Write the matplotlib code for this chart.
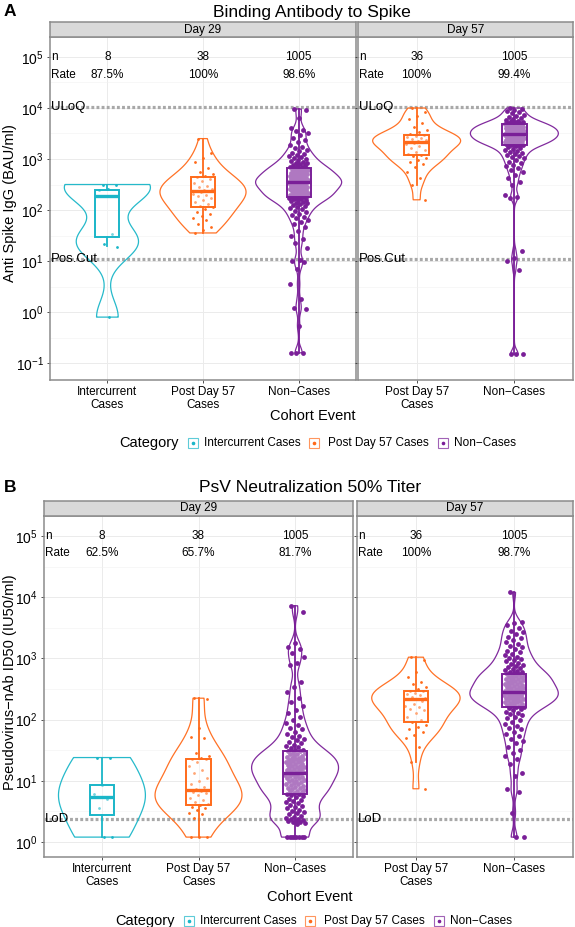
import numpy as np
import matplotlib
matplotlib.use("Agg")
import matplotlib.pyplot as plt
from matplotlib.colors import to_rgba
from matplotlib.patches import Rectangle
from matplotlib.lines import Line2D

plt.rcParams['font.family'] = ['Liberation Sans', 'DejaVu Sans']
plt.rcParams['mathtext.fontset'] = 'custom'
plt.rcParams['mathtext.rm'] = 'Liberation Sans'

# ── data (log10 scale) ───────────────────────────────────────────────────────
categories   = ["Intercurrent Cases", "Post Day 57 Cases", "Non\u2212Cases"]
tick_labels  = ["Intercurrent\nCases", "Post Day 57\nCases", "Non\u2212Cases"]
colors       = ["#1AB6C8", "#FF6A1A", "#7A1F98"]

# A: Binding Antibody to Spike
a_title  = "Binding Antibody to Spike"
a_ylabel = "Anti Spike IgG (BAU/ml)"
a_n_d29, a_rate_d29 = ["8", "38", "1005"], ["87.5%", "100%", "98.6%"]
a_n_d57, a_rate_d57 = ["36", "1005"], ["100%", "99.4%"]
a_ref_names = ["ULoQ", "Pos.Cut"]
a_ref_vals  = [4.01, 1.03]

a29_ic = [2.50, 2.49, 2.41, 2.39, 1.52, 1.33, 1.28, -0.10]
a29_pd = [3.40, 3.12, 3.02, 2.95, 2.82, 2.75, 2.70, 2.66, 2.64, 2.60, 2.57, 2.52, 2.48,
          2.45, 2.42, 2.40, 2.38, 2.37, 2.35, 2.32, 2.30, 2.27, 2.24, 2.20, 2.16, 2.12,
          2.08, 2.05, 2.02, 1.97, 1.92, 1.88, 1.85, 1.80, 1.72, 1.66, 1.60, 1.55]
a29_nc = [3.98, 3.97, 3.80, 3.61, 3.57, 3.55, 3.51, 3.47,
          3.42, 3.37, 3.33, 3.28, 3.24, 3.21, 3.18, 3.15, 3.12, 3.10, 3.08, 3.06, 3.04,
          3.02, 3.00, 2.98, 2.97, 2.95, 2.93, 2.92, 2.90, 2.89, 2.88, 2.86, 2.85, 2.84,
          2.83, 2.82, 2.81, 2.80, 2.79, 2.78, 2.78, 2.77, 2.76, 2.75, 2.74, 2.73, 2.72,
          2.71, 2.70, 2.70, 2.69, 2.68, 2.67, 2.66, 2.65, 2.64, 2.63, 2.63, 2.62, 2.61,
          2.60, 2.59, 2.59, 2.58, 2.57, 2.57, 2.56, 2.56, 2.55, 2.55,
          2.54, 2.54, 2.53, 2.52, 2.52, 2.51, 2.50, 2.50, 2.49, 2.48, 2.47, 2.47, 2.46,
          2.45, 2.44, 2.43, 2.42, 2.41, 2.40, 2.40, 2.39, 2.38, 2.37, 2.36, 2.35, 2.34,
          2.33, 2.32, 2.31, 2.30, 2.30, 2.29, 2.28, 2.27, 2.27, 2.26,
          2.25, 2.24, 2.23, 2.22, 2.21, 2.20, 2.19, 2.17, 2.16, 2.14, 2.13, 2.11, 2.09,
          2.07, 2.05, 2.03, 2.01, 1.98, 1.96, 1.93, 1.90, 1.87, 1.84, 1.80, 1.76, 1.72,
          1.66, 1.58, 1.50, 1.43, 1.35, 1.25, 1.02, 1.00, 0.98, 0.85, 0.55, 0.26, 0.07,
          0.06, -0.27, -0.80, -0.80, -0.80]
a57_pd = [4.00, 3.92, 3.85, 3.78, 3.70, 3.62, 3.57, 3.52, 3.49, 3.47, 3.45, 3.43, 3.41,
          3.39, 3.37, 3.35, 3.34, 3.33, 3.31, 3.29, 3.26, 3.22, 3.18, 3.14, 3.10, 3.08,
          3.05, 3.02, 2.98, 2.95, 2.90, 2.84, 2.75, 2.62, 2.49, 2.20]
a57_nc = [4.00, 3.99, 3.97, 3.95, 3.92, 3.90, 3.87, 3.85, 3.82, 3.80, 3.78, 3.76,
          3.75, 3.74, 3.73, 3.72, 3.71, 3.70, 3.69,
          3.68, 3.68, 3.67, 3.66, 3.66, 3.65, 3.64, 3.64, 3.63, 3.62, 3.62, 3.61, 3.60,
          3.60, 3.59, 3.58, 3.58, 3.57, 3.56, 3.56, 3.55, 3.55, 3.54, 3.53, 3.53, 3.52,
          3.51, 3.51, 3.50, 3.49, 3.49, 3.49,
          3.48, 3.47, 3.47, 3.46, 3.45, 3.45, 3.44, 3.44, 3.43, 3.42, 3.42, 3.41, 3.40,
          3.40, 3.39, 3.38, 3.38, 3.37, 3.36, 3.35, 3.35, 3.34, 3.33, 3.33, 3.32, 3.31,
          3.30, 3.29, 3.29, 3.28, 3.27, 3.27,
          3.25, 3.24, 3.22, 3.20, 3.18, 3.16, 3.14, 3.12, 3.10, 3.08, 3.06, 3.03, 3.01,
          2.98, 2.95, 2.92, 2.89, 2.86, 2.82, 2.78,
          2.74, 2.69, 2.62, 2.55, 2.49, 2.30, 2.25, 2.24, 1.20, 1.05, 1.00, 0.83,
          -0.83, -0.83, -0.83]
# box: whisker low, Q1, median, Q3, whisker high
a29_box = [[1.30, 1.47, 2.28, 2.40, 2.50], [1.55, 2.05, 2.38, 2.65, 3.40],
           [-0.80, 2.26, 2.55, 2.83, 3.98]]
a57_box = [[2.49, 3.08, 3.33, 3.47, 4.00], [-0.83, 3.27, 3.49, 3.68, 4.00]]

# B: PsV Neutralization 50% Titer
b_title  = "PsV Neutralization 50% Titer"
b_ylabel = "Pseudovirus\u2212nAb ID50 (IU50/ml)"
b_n_d29, b_rate_d29 = ["8", "38", "1005"], ["62.5%", "65.7%", "81.7%"]
b_n_d57, b_rate_d57 = ["36", "1005"], ["100%", "98.7%"]
b_ref_names = ["LoD"]
b_ref_vals  = [0.384]

b29_ic = [1.38, 1.38, 0.93, 0.79, 0.70, 0.56, 0.08, 0.08]
b29_pd = [2.35, 2.34, 1.86, 1.72, 1.70, 1.45, 1.40, 1.38, 1.36, 1.35, 1.30, 1.25, 1.18,
          1.12, 1.05, 1.00, 0.95, 0.90, 0.87, 0.85, 0.84, 0.82, 0.80, 0.76, 0.72, 0.68,
          0.65, 0.62, 0.60, 0.58, 0.55, 0.52, 0.48, 0.45, 0.40, 0.08, 0.08, 0.08]
b29_nc = [3.86, 3.76, 3.25, 3.19, 3.15, 3.09, 3.02, 2.92, 2.89, 2.62, 2.53, 2.45, 2.35,
          2.28, 2.22,
          2.16, 2.10, 2.04, 1.99, 1.95, 1.91, 1.87, 1.84, 1.80, 1.77, 1.74, 1.71, 1.68,
          1.66, 1.63, 1.61, 1.59, 1.57, 1.55, 1.53, 1.51, 1.50,
          1.49, 1.48, 1.46, 1.45, 1.44, 1.43, 1.41, 1.40, 1.39, 1.38, 1.37, 1.36, 1.35,
          1.34, 1.33, 1.32, 1.31, 1.30, 1.29, 1.28, 1.27, 1.26, 1.25, 1.24, 1.23, 1.22,
          1.21, 1.20, 1.19, 1.18, 1.17, 1.16, 1.15, 1.14, 1.13,
          1.12, 1.11, 1.10, 1.09, 1.08, 1.07, 1.06, 1.05, 1.04, 1.02, 1.01, 1.00, 0.99,
          0.98, 0.96, 0.95, 0.94, 0.93, 0.91, 0.90, 0.89, 0.88, 0.86, 0.85, 0.84, 0.83,
          0.81, 0.80, 0.79, 0.78,
          0.77, 0.75, 0.73, 0.71, 0.69, 0.67, 0.65, 0.63, 0.61, 0.59, 0.57, 0.55, 0.53,
          0.51, 0.49, 0.47, 0.45, 0.43, 0.41, 0.39, 0.38, 0.37, 0.36, 0.35, 0.34, 0.33,
          0.32, 0.31, 0.30, 0.08, 0.08, 0.08, 0.08, 0.08, 0.08, 0.08, 0.08]
b57_pd = [3.02, 2.97, 2.78, 2.69, 2.62, 2.58, 2.54, 2.50, 2.47, 2.46, 2.44, 2.42, 2.40,
          2.37, 2.35, 2.34, 2.33, 2.30, 2.26, 2.22, 2.20, 2.18, 2.15, 2.10, 2.05, 1.99,
          1.96, 1.92, 1.88, 1.85, 1.80, 1.75, 1.70, 1.56, 1.31, 0.87]
b57_nc = [4.08, 3.59, 3.58, 3.55, 3.50, 3.44, 3.43, 3.40, 3.35, 3.34, 3.30,
          3.27, 3.24, 3.21, 3.18, 3.15, 3.12, 3.10, 3.07, 3.05, 3.03, 3.01, 2.99, 2.97,
          2.95, 2.93, 2.91, 2.89, 2.87, 2.86, 2.84, 2.83, 2.81, 2.80, 2.78, 2.77, 2.76,
          2.75, 2.74,
          2.73, 2.72, 2.71, 2.70, 2.69, 2.68, 2.67, 2.66, 2.65, 2.64, 2.63, 2.62, 2.61,
          2.60, 2.59, 2.58, 2.57, 2.56, 2.55, 2.54, 2.53, 2.52, 2.51, 2.50, 2.49, 2.48,
          2.47, 2.46, 2.45, 2.45,
          2.44, 2.44, 2.43, 2.42, 2.41, 2.40, 2.40, 2.39, 2.38, 2.37, 2.36, 2.35, 2.35,
          2.34, 2.33, 2.32, 2.31, 2.30, 2.29, 2.28, 2.27, 2.26, 2.25, 2.24, 2.23, 2.22,
          2.21, 2.20,
          2.19, 2.17, 2.15, 2.13, 2.11, 2.09, 2.07, 2.04, 2.02, 1.99, 1.96, 1.93, 1.90,
          1.87, 1.84, 1.80, 1.77, 1.73, 1.69, 1.65, 1.61,
          1.55, 1.50, 1.45, 1.40, 1.35, 1.27, 1.13, 1.08, 0.87, 0.82, 0.48, 0.08, 0.08]
b29_box = [[0.08, 0.44, 0.74, 0.93, 1.38], [0.08, 0.60, 0.85, 1.36, 2.35],
           [0.08, 0.78, 1.13, 1.49, 3.86]]
b57_box = [[1.31, 1.96, 2.34, 2.47, 3.02], [0.08, 2.20, 2.45, 2.74, 4.08]]

# ── layout helpers (pixels, top-left origin) ─────────────────────────────────
W, H = 575, 927
fig = plt.figure(figsize=(W / 100, H / 100), dpi=100)

def rect(x0, y0, x1, y1):
    return [x0 / W, 1 - y1 / H, (x1 - x0) / W, (y1 - y0) / H]

def ftext(x, y, s, **kw):
    fig.text(x / W, 1 - y / H, s, **kw)

BORDER = "#8C8C8C"

def draw_group(ax, pos, vals, box, color, bw, jit, size):
    vals = np.asarray(vals, dtype=float)
    vp = ax.violinplot([vals], positions=[pos], widths=0.9, showextrema=False,
                       points=300, bw_method=bw / np.std(vals, ddof=1))
    for b in vp['bodies']:
        b.set_facecolor('none')
        b.set_edgecolor(to_rgba(color, 0.95))
        b.set_linewidth(0.9)
        b.set_alpha(None)
        b.set_zorder(2)
    k = np.arange(len(vals))
    off = ((k * 0.6180339887 + 0.27) % 1.0 - 0.5) * 2 * jit
    ax.scatter(pos + off, vals, s=size, color=color, linewidths=0, zorder=3)
    st = dict(whislo=box[0], q1=box[1], med=box[2], q3=box[3], whishi=box[4])
    ax.bxp([st], positions=[pos], widths=0.25, showfliers=False, showcaps=False,
           patch_artist=True, manage_ticks=False, zorder=4,
           boxprops=dict(facecolor=(1, 1, 1, 0.4), edgecolor=color, linewidth=1.4),
           medianprops=dict(color=color, linewidth=2.4, solid_capstyle='butt'),
           whiskerprops=dict(color=color, linewidth=1.3))

def panel(px, py, strip, groups, boxes, cidx, bws, ns, rates, y_n, y_rate,
          ref_names, ref_vals, ylim, show_y):
    x0, x1 = px
    sy0, sy1, py1 = py
    ax = fig.add_axes(rect(x0, sy1, x1, py1))
    ncat = len(groups)
    pos = np.arange(1, ncat + 1)
    ax.set_xlim(0.4, ncat + 0.6)
    ax.set_ylim(*ylim)
    major = np.arange(np.ceil(ylim[0]), np.floor(ylim[1]) + 1)
    minor = major[:-1] + 0.5
    ax.set_yticks(major)
    ax.set_yticks(minor, minor=True)
    ax.set_xticks(pos)
    ax.set_xticklabels([tick_labels[c] for c in cidx], fontsize=8.5, linespacing=1.1)
    if show_y:
        ax.set_yticklabels([r'$\mathregular{10^{%d}}$' % m for m in major], fontsize=10)
    else:
        ax.tick_params(axis='y', labelleft=False)
    ax.tick_params(which='both', length=2.5, width=0.6, color='#333333', pad=2)
    ax.tick_params(which='minor', length=0)
    ax.grid(which='major', color='#EBEBEB', lw=0.7)
    ax.grid(which='minor', axis='y', color='#F2F2F2', lw=0.4)
    ax.set_axisbelow(True)
    for s in ax.spines.values():
        s.set_color(BORDER)
        s.set_linewidth(1.1)

    for name, v in zip(ref_names, ref_vals):
        ax.axhline(v, color='#A8A8A8', lw=2.3, ls=(0, (0.9, 0.7)), zorder=1.5)
        ax.text(0.41, v, name, ha='left', va='center', fontsize=9.5, zorder=5)

    ax.text(0.41, y_n, "n", ha='left', va='center', fontsize=8.5)
    ax.text(0.41, y_rate, "Rate", ha='left', va='center', fontsize=8.5)
    for p, n, r in zip(pos, ns, rates):
        ax.text(p, y_n, n, ha='center', va='center', fontsize=8.5)
        ax.text(p, y_rate, r, ha='center', va='center', fontsize=8.5)

    for p, vals, box, c, bw in zip(pos, groups, boxes, cidx, bws):
        dense = len(vals) > 60
        draw_group(ax, p, vals, box, colors[c], bw, 0.1 if dense else 0.11,
                   12 if dense else 4)

    sax = fig.add_axes(rect(x0, sy0, x1, sy1))
    sax.set_facecolor('#D9D9D9')
    sax.set_xticks([]); sax.set_yticks([])
    for s in sax.spines.values():
        s.set_color(BORDER)
        s.set_linewidth(1.1)
    sax.text(0.5, 0.5, strip, ha='center', va='center', fontsize=8.5,
             transform=sax.transAxes)
    return ax

def legend(cx, cy):
    ftext(cx - 193, cy, "Category", ha='left', va='center', fontsize=10.5)
    keys = [cx - 119, cx + 2, cx + 131]
    labs = [cx - 108, cx + 16, cx + 142]
    names = ["Intercurrent Cases", "Post Day 57 Cases", "Non\u2212Cases"]
    for kx, lx, c, nm in zip(keys, labs, colors, names):
        fig.add_artist(Rectangle(((kx - 5) / W, 1 - (cy + 5) / H), 10 / W, 10 / H,
                                 fill=False, edgecolor=to_rgba(c, 0.7), lw=0.8,
                                 transform=fig.transFigure))
        fig.add_artist(Line2D([kx / W], [1 - cy / H], marker='o', ms=1.6, color=c,
                              lw=0, transform=fig.transFigure))
        ftext(lx, cy, nm, ha='left', va='center', fontsize=8.5)

# ── panel A ───────────────────────────────────────────────────────────────────
a_ylim = (-1.333, 5.392)
panel((50, 356), (22, 37, 380), "Day 29", [a29_ic, a29_pd, a29_nc], a29_box, [0, 1, 2],
      [0.33, 0.2, 0.11], a_n_d29, a_rate_d29, 5.0, 4.65, a_ref_names, a_ref_vals,
      a_ylim, True)
panel((358, 573), (22, 37, 380), "Day 57", [a57_pd, a57_nc], a57_box, [1, 2],
      [0.14, 0.09], a_n_d57, a_rate_d57, 5.0, 4.65, a_ref_names, a_ref_vals,
      a_ylim, False)
ftext(4, 12, "A", ha='left', va='center', fontsize=12.5, fontweight='bold')
ftext(312, 12, a_title, ha='center', va='center', fontsize=12.6)
ftext(10, 203, a_ylabel, ha='center', va='center', rotation=90, fontsize=10.5)
ftext(313, 416, "Cohort Event", ha='center', va='center', fontsize=10.5)
legend(312, 443)

# ── panel B ───────────────────────────────────────────────────────────────────
b_ylim = (-0.245, 5.327)
panel((44, 353), (501, 516, 857), "Day 29", [b29_ic, b29_pd, b29_nc], b29_box, [0, 1, 2],
      [0.35, 0.25, 0.12], b_n_d29, b_rate_d29, 5.0, 4.72, b_ref_names, b_ref_vals,
      b_ylim, True)
panel((357, 573), (501, 516, 857), "Day 57", [b57_pd, b57_nc], b57_box, [1, 2],
      [0.17, 0.11], b_n_d57, b_rate_d57, 5.0, 4.72, b_ref_names, b_ref_vals,
      b_ylim, False)
ftext(4, 487, "B", ha='left', va='center', fontsize=12.5, fontweight='bold')
ftext(310, 487, b_title, ha='center', va='center', fontsize=12.6)
ftext(10, 682, b_ylabel, ha='center', va='center', rotation=90, fontsize=10.5)
ftext(310, 897, "Cohort Event", ha='center', va='center', fontsize=10.5)
legend(308, 921)

fig.savefig("out.png", dpi=100)
plt.close()
